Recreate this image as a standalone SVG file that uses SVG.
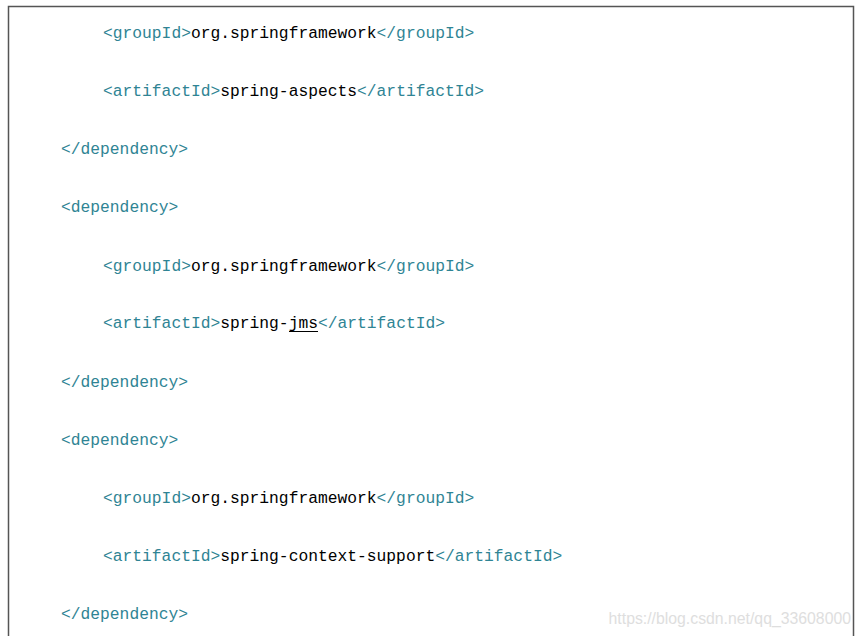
<svg xmlns="http://www.w3.org/2000/svg" width="861" height="636" viewBox="0 0 861 636">
<style>
.code{font-family:"Liberation Mono","DejaVu Sans Mono",monospace;font-size:16.3px;fill:#000}
.t{fill:#2f8494}
.wm{font-family:"Liberation Sans",Arial,sans-serif;font-size:15.8px;fill:#dedede}
</style>
<rect width="861" height="636" fill="#fff"/>
<path d="M8.5 640 V6.5 H853.5 V640" fill="none" stroke="#555" stroke-width="1.5"/>
<g id="code" class="code">
<text x="103" y="38"><tspan class="t">&lt;groupId&gt;</tspan>org.springframework<tspan class="t">&lt;/groupId&gt;</tspan></text>
<text x="103" y="96"><tspan class="t">&lt;artifactId&gt;</tspan>spring-aspects<tspan class="t">&lt;/artifactId&gt;</tspan></text>
<text x="61" y="154" class="t">&lt;/dependency&gt;</text>
<text x="61" y="212" class="t">&lt;dependency&gt;</text>
<text x="103" y="271"><tspan class="t">&lt;groupId&gt;</tspan>org.springframework<tspan class="t">&lt;/groupId&gt;</tspan></text>
<text x="103" y="328"><tspan class="t">&lt;artifactId&gt;</tspan>spring-jms<tspan class="t">&lt;/artifactId&gt;</tspan></text>
<text x="61" y="387" class="t">&lt;/dependency&gt;</text>
<text x="61" y="445" class="t">&lt;dependency&gt;</text>
<text x="103" y="503"><tspan class="t">&lt;groupId&gt;</tspan>org.springframework<tspan class="t">&lt;/groupId&gt;</tspan></text>
<text x="103" y="561"><tspan class="t">&lt;artifactId&gt;</tspan>spring-context-support<tspan class="t">&lt;/artifactId&gt;</tspan></text>
<text x="61" y="619" class="t">&lt;/dependency&gt;</text>
</g>
<line x1="289" y1="331.5" x2="318" y2="331.5" stroke="#000" stroke-width="1"/>
<text class="wm" x="851" y="624" text-anchor="end">https://blog.csdn.net/qq_33608000</text>
</svg>
